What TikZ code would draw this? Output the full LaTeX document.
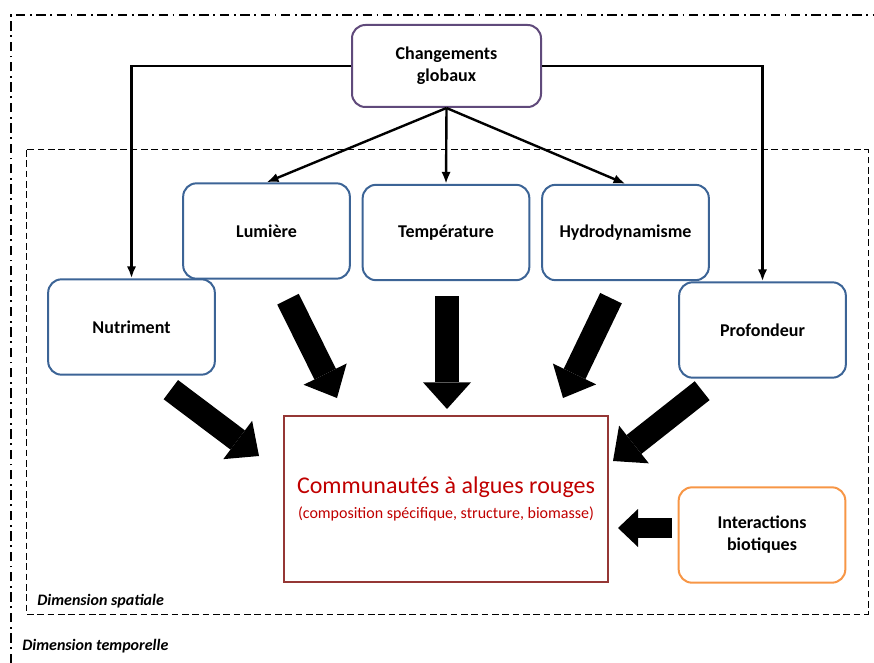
\documentclass[tikz,border=0pt]{standalone}
\usepackage{fontspec}
\setmainfont{Carlito}
\usetikzlibrary{arrows.meta}
\definecolor{bleufonce}{RGB}{60,100,150}
\definecolor{pourpre}{RGB}{96,74,123}
\definecolor{brique}{RGB}{149,55,53}
\definecolor{rougetexte}{RGB}{192,0,0}
\definecolor{orangeclair}{RGB}{247,150,70}
\tikzstyle{facteur} = [shape=rectangle, rounded corners=10pt,
		draw=bleufonce, line width=1.5pt, anchor=center,
		minimum width=125pt, minimum height=71.5pt, align=center,
		font=\bfseries\fontsize{13.5}{16.5}\selectfont]
\tikzstyle{global} = [facteur, draw=pourpre,
		minimum width=141.75pt, minimum height=61.5pt]
\tikzstyle{biotique} = [facteur, draw=orangeclair]
\tikzstyle{cible} = [shape=rectangle, draw=brique, line width=1.5pt,
		minimum width=243pt, minimum height=124.5pt, align=center,
		text=rougetexte]
\tikzstyle{lien} = [line width=1.8pt, >={Latex[length=9pt,width=7pt]}, ->]
\tikzstyle{bloc} = [line width=18pt,
		-{Triangle[length=20pt,width=36pt,line width=0pt]}]
\tikzstyle{petitbloc} = [line width=15pt,
		-{Triangle[length=15pt,width=28.5pt,line width=0pt]}]
\tikzstyle{spatial} = [line width=0.75pt, dash pattern=on 5pt off 2.75pt]
\tikzstyle{temporel} = [line width=1.5pt,
		dash pattern=on 7pt off 3.5pt on 1.3pt off 3.5pt]
\tikzstyle{legende} = [anchor=west, inner sep=0pt,
		font=\bfseries\itshape\fontsize{12}{14}\selectfont]

\begin{document}
\begin{tikzpicture}[x=0.75pt, y=-0.75pt]
	\useasboundingbox (0,0) rectangle (874,663);
	% cadres
	\draw[temporel] (11,663) |- (874,15);
	\draw[spatial] (26,150) rectangle (868,614);
	\node[legende] (spat) at (37,601) {Dimension spatiale};
	\node[legende] (temps) at (22,646) {Dimension temporelle};

	\node[global] (chang) at (446.5,66) {Changements\\globaux};
	\node[facteur] (lum) at (266.5,231) {Lumière};
	\node[facteur] (temp) at (446,232.5) {Température};
	\node[facteur] (hydro) at (625.5,232.5) {Hydrodynamisme};
	\node[facteur] (nutri) at (131.5,327) {Nutriment};
	\node[facteur] (prof) at (762.5,330) {Profondeur};
	\node[cible] (commu) at (446,499)
		{{\fontsize{18}{22}\selectfont Communautés à algues rouges}\\[7pt]
		{\fontsize{12}{14}\selectfont (composition spécifique, structure, biomasse)}};
	\node[biotique] (inter) at (762,535) {Interactions\\biotiques};

	\draw[lien] (chang.west) -| (nutri.north);
	\draw[lien] (chang.east) -| (prof.north);
	\path[lien] (chang.south) edge (lum.north);
	\path[lien] (chang.south) edge (temp.north);
	\path[lien] (chang.south) edge (hydro.north);

	\draw[bloc] ([shift={(-45,14)}]nutri.south east) -- ([shift={(-24,41)}]commu.north west);
	\draw[bloc] ([shift={(21.5,19.5)}]lum.south) -- ([shift={(54,-17)}]commu.north west);
	\draw[bloc] ([shift={(1,15)}]temp.south) -- ([shift={(1,-6)}]commu.north);
	\draw[bloc] ([shift={(-14.5,17)}]hydro.south) -- ([shift={(-46,-17)}]commu.north east);
	\draw[bloc] ([shift={(24,12)}]prof.south west) -- ([shift={(4,46)}]commu.north east);
	\draw[petitbloc] ([shift={(-6,-7)}]inter.west) -- ([shift={(9,29)}]commu.east);
\end{tikzpicture}
\end{document}
